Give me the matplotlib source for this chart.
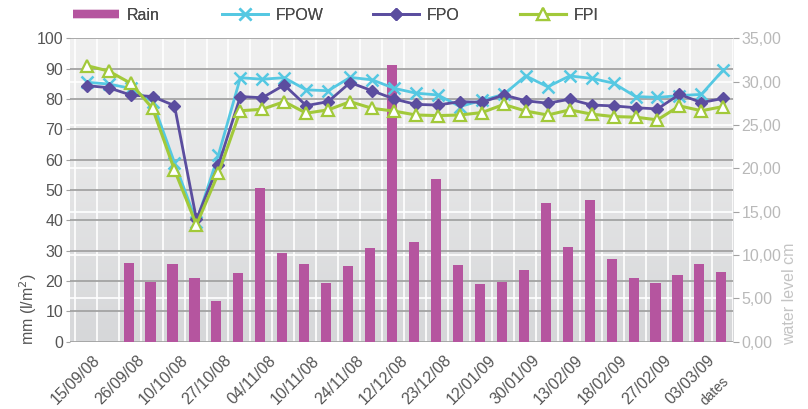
import numpy as np
import matplotlib
matplotlib.use("Agg")
import matplotlib.pyplot as plt
from matplotlib.lines import Line2D

plt.rcParams['font.family'] = ['Liberation Sans', 'DejaVu Sans']

# date labels, one for every second measurement
date_labels = ["15/09/08", "26/09/08", "10/10/08", "27/10/08", "04/11/08", "10/11/08",
               "24/11/08", "12/12/08", "23/12/08", "12/01/09", "30/01/09", "13/02/09",
               "18/02/09", "27/02/09", "03/03/09"]

# rainfall in mm (l/m2), no rain recorded for the first two measurements
rain = [np.nan, np.nan, 25.9, 19.8, 25.6, 21.0, 13.4, 22.6, 50.7, 29.2,
        25.6, 19.3, 24.9, 30.9, 91.2, 32.9, 53.6, 25.3, 19.0, 19.7,
        23.6, 45.7, 31.2, 46.7, 27.3, 21.0, 19.3, 21.9, 25.6, 23.0]

# water levels in cm
fpow = [29.93, 29.72, 29.23, 27.69, 20.65, 13.83, 21.53, 30.45, 30.28, 30.45,
        29.05, 28.95, 30.49, 30.21, 29.23, 28.67, 28.46, 27.13, 27.83, 28.53,
        30.66, 29.40, 30.66, 30.38, 29.82, 28.28, 28.18, 28.39, 28.53, 31.36]
fpo = [29.54, 29.30, 28.46, 28.28, 27.23, 14.11, 20.37, 28.28, 28.14, 29.61,
       27.23, 27.69, 29.89, 28.95, 28.00, 27.37, 27.30, 27.69, 27.62, 28.46,
       27.79, 27.51, 27.97, 27.30, 27.20, 26.99, 26.85, 28.53, 27.58, 28.07]
fpi = [31.85, 31.22, 29.82, 26.92, 19.81, 13.48, 19.43, 26.64, 26.81, 27.69,
       26.36, 26.74, 27.69, 26.92, 26.60, 26.15, 26.08, 26.15, 26.43, 27.37,
       26.60, 26.15, 26.74, 26.25, 25.97, 25.90, 25.59, 27.20, 26.64, 27.13]

left_ticks = np.arange(0, 101, 10)
right_ticks = np.arange(0, 36, 5)

c_rain = "#b5559f"
c_fpow = "#55c8e2"
c_fpo = "#5b4d9f"
c_fpi = "#a2c93a"
dark_txt = "#555555"
light_txt = "#b9b9b9"

W, H = 808, 409
x = np.arange(len(rain))

fig = plt.figure(figsize=(W / 100, H / 100), dpi=100)
ax = fig.add_axes([0.0866, 0.1646, 0.8206, 0.7418])
ax.set_xlim(-0.76, 29.44)
ax.set_ylim(0, 100)

# grey gradient background
grad = np.linspace(0, 1, 256).reshape(-1, 1)
ax.imshow(grad, extent=[-0.76, 29.44, 0, 100], aspect='auto', origin='lower',
          cmap=matplotlib.colors.LinearSegmentedColormap.from_list("bg", ["#d6d7d9", "#f1f1f1"]),
          zorder=0)

# grid: white verticals, white lines at right ticks, grey at left ticks
for xv in np.arange(-0.54, 29.5, 1):
    ax.axvline(xv, color="white", lw=1.2, zorder=1)
for t in right_ticks[1:]:
    ax.axhline(t * 100 / 35, color="white", lw=1.2, zorder=1)
for t in left_ticks:
    ax.axhline(t, color="#a3a3a3", lw=1.3, zorder=1.5)

ax.bar(x - 0.09, rain, width=0.46, color=c_rain, zorder=2)

for s in ax.spines.values():
    s.set_visible(False)
ax.set_yticks(left_ticks)
ax.tick_params(axis='y', length=3, color="#a3a3a3", labelsize=11.5, labelcolor=dark_txt, pad=2)
ax.set_xticks(x[::2] + 0.75)
ax.set_xticklabels(date_labels, rotation=45, ha='right', fontsize=11.5, color=dark_txt)
ax.tick_params(axis='x', length=0, pad=8)
ax.set_ylabel("mm (l/m$^2$)", fontsize=11.5, color=dark_txt)
ax.yaxis.set_label_coords(-0.047, 0.108)

ax2 = ax.twinx()
ax2.set_ylim(0, 35)
ax2.set_xlim(-0.76, 29.44)
for s in ax2.spines.values():
    s.set_visible(False)
ax2.set_yticks(right_ticks)
ax2.set_yticklabels([f"{t:.2f}".replace(".", ",") for t in right_ticks])
ax2.tick_params(axis='y', length=4, color="#a3a3a3", labelsize=11.5, labelcolor=light_txt, pad=2)
ax2.set_ylabel("water level cm", fontsize=11.5, color="#c4c4c4")
ax2.yaxis.set_label_coords(1.074, 0.157)

ax2.plot(x, fpow, color=c_fpow, lw=2, marker='x', ms=9, mew=1.8, zorder=3)
ax2.plot(x, fpo, color=c_fpo, lw=2, marker='D', ms=6.5, zorder=4)
ax2.plot(x, fpi, color=c_fpi, lw=2.2, marker='^', ms=9, mfc='white', mew=1.6, zorder=5)

fig.text(732 / W, (H - 374) / H, "dates", rotation=45, ha='right', va='top',
         fontsize=10, color=dark_txt)

# legend entries laid out one by one along the top
handles = [
    Line2D([], [], color=c_rain, lw=6, solid_capstyle='butt'),
    Line2D([], [], color=c_fpow, lw=2, marker='x', ms=9, mew=1.8),
    Line2D([], [], color=c_fpo, lw=2, marker='D', ms=6.5),
    Line2D([], [], color=c_fpi, lw=2.2, marker='^', ms=9, mfc='white', mew=1.6),
]
names = ["Rain", "FPOW", "FPO", "FPI"]
starts = [73, 222, 373, 520]
for h, n, sx in zip(handles, names, starts):
    lg = fig.legend([h], [n], frameon=False, loc='center left',
                    bbox_to_anchor=(sx / W, (H - 15) / H), borderpad=0, borderaxespad=0,
                    fontsize=11.5, handlelength=2.9, handletextpad=0.45, labelcolor="#4a4a4a")
    fig.add_artist(lg)

fig.savefig("out.png", dpi=100)
